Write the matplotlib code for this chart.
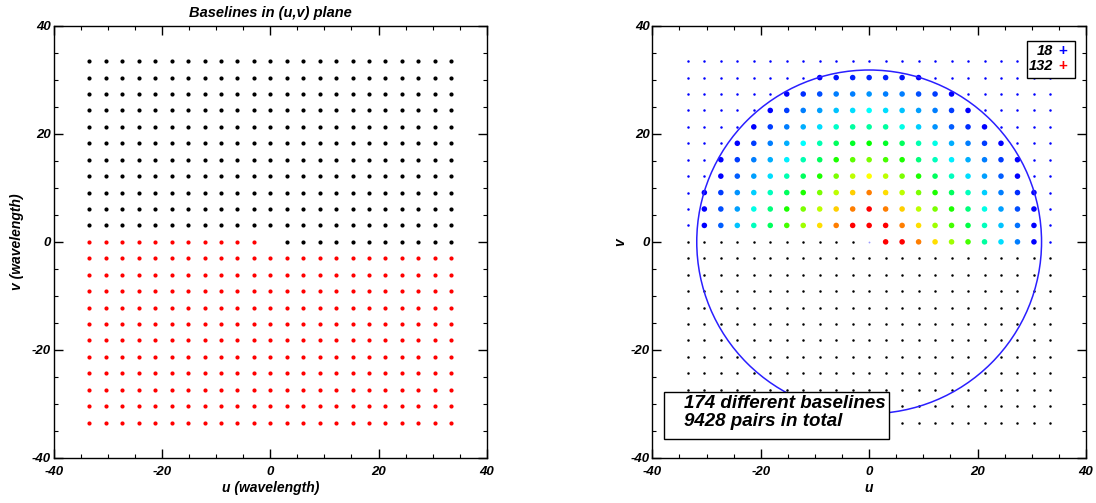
import matplotlib
matplotlib.use("Agg")
import matplotlib.pyplot as plt
from matplotlib import font_manager
from matplotlib.colors import LinearSegmentedColormap, Normalize
from matplotlib.patches import Circle, Rectangle
from matplotlib.ticker import MultipleLocator

plt.rcParams["axes.unicode_minus"] = False

# ---------------- data ----------------
grid_u = [-33.44, -30.40, -27.36, -24.32, -21.28, -18.24, -15.20, -12.16, -9.12, -6.08, -3.04,
          0.0, 3.04, 6.08, 9.12, 12.16, 15.20, 18.24, 21.28, 24.32, 27.36, 30.40, 33.44]
grid_v = list(grid_u)

# redundancy rows in right panel: (v index, first u index, counts)
row_v_index = [21, 20, 19, 18, 17, 16, 15, 14, 13, 12, 11]
row_u_start = [8, 6, 5, 4, 3, 2, 2, 1, 1, 1, 12]
row_counts = [
    [18, 21, 23, 24, 23, 21, 18],
    [18, 25, 30, 37, 37, 40, 37, 37, 30, 27, 18],
    [18, 27, 37, 42, 47, 51, 56, 51, 47, 42, 37, 27, 18],
    [18, 27, 37, 44, 51, 60, 63, 63, 63, 58, 49, 40, 32, 25, 18],
    [18, 27, 37, 44, 56, 62, 68, 72, 75, 72, 68, 62, 58, 44, 37, 27, 18],
    [18, 27, 37, 44, 54, 62, 68, 77, 82, 84, 80, 77, 66, 61, 54, 44, 37, 27, 18],
    [18, 32, 42, 51, 62, 68, 77, 84, 89, 94, 89, 84, 77, 68, 61, 51, 42, 32, 18],
    [18, 27, 40, 49, 61, 68, 77, 84, 89, 101, 113, 99, 89, 84, 77, 68, 61, 49, 37, 25, 18],
    [18, 30, 42, 58, 66, 77, 84, 89, 101, 113, 132, 113, 101, 89, 84, 77, 66, 58, 42, 30, 18],
    [18, 32, 47, 61, 68, 80, 87, 99, 113, 132, 132, 132, 113, 99, 87, 80, 70, 61, 47, 35, 18],
    [132, 132, 113, 99, 87, 80, 63, 51, 37, 18],
]
count_min = 18
count_max = 132
circle_radius = 31.8
n_baselines = 174
n_pairs = 9428

# ---------------- fonts ----------------
avail = {f.name for f in font_manager.fontManager.ttflist}
fam = "Liberation Sans Narrow" if "Liberation Sans Narrow" in avail else "Liberation Sans"
FONT = dict(family=fam, weight="bold", style="italic")

fig = plt.figure(figsize=(10.96, 5.03), dpi=100)
W, H = 1096.0, 503.0

def ax_rect(l, r, t, b):
    return [l / W, 1 - b / H, (r - l) / W, (b - t) / H]

axL = fig.add_axes(ax_rect(54, 486.7, 25.7, 458))
axR = fig.add_axes(ax_rect(652.3, 1086, 25.7, 458))

for ax in (axL, axR):
    ax.set_xlim(-40, 40)
    ax.set_ylim(-40, 40)
    ax.xaxis.set_major_locator(MultipleLocator(20))
    ax.yaxis.set_major_locator(MultipleLocator(20))
    ax.xaxis.set_minor_locator(MultipleLocator(5))
    ax.yaxis.set_minor_locator(MultipleLocator(5))
    ax.tick_params(which="both", direction="in", top=True, right=True)
    ax.tick_params(which="major", length=6.5, width=1.0)
    ax.tick_params(which="minor", length=3.2, width=0.8)
    ax.tick_params(axis="x", pad=6)
    ax.tick_params(axis="y", pad=2)
    for s in ax.spines.values():
        s.set_linewidth(1.0)
    for lab in ax.get_xticklabels() + ax.get_yticklabels():
        lab.set_fontproperties(font_manager.FontProperties(size=9.5, **FONT))

# ---------------- left panel ----------------
bu, bv, ru, rv = [], [], [], []
for j, v in enumerate(grid_v):
    for i, u in enumerate(grid_u):
        if j > 11 or (j == 11 and i > 11):
            bu.append(u); bv.append(v)
        elif j < 11 or (j == 11 and i < 11):
            ru.append(u); rv.append(v)
axL.plot(bu, bv, "o", color="black", ms=3.0, mew=0, ls="none")
axL.plot(ru, rv, "o", color="#ff0000", ms=3.0, mew=0, ls="none")
axL.set_title("Baselines in (u,v) plane", fontsize=10.5, pad=6, **FONT)
axL.set_xlabel("u (wavelength)", fontsize=10, labelpad=2, **FONT)
axL.set_ylabel("v (wavelength)", fontsize=10, labelpad=6, **FONT)

# ---------------- right panel ----------------
axR.plot(bu, bv, "o", color="#0000ff", ms=1.8, mew=0, ls="none")
axR.plot(ru, rv, "o", color="black", ms=1.8, mew=0, ls="none")
axR.plot([grid_u[11]], [grid_v[11]], "o", color="#9a9aff", ms=1.3, mew=0, ls="none")

cmap = LinearSegmentedColormap.from_list(
    "rb", [(0, "#0000ff"), (1 / 3, "#00ffff"), (0.5, "#00ff00"), (2 / 3, "#ffff00"), (1, "#ff0000")])
norm = Normalize(count_min, count_max)
cu, cv, cc = [], [], []
for jv, i0, counts in zip(row_v_index, row_u_start, row_counts):
    for k, c in enumerate(counts):
        cu.append(grid_u[i0 + k]); cv.append(grid_v[jv]); cc.append(c)
axR.scatter(cu, cv, c=cc, cmap=cmap, norm=norm, s=16, linewidths=0, zorder=3)

axR.add_patch(Circle((0, 0), circle_radius, fill=False, ec="#2a1fff", lw=1.1, zorder=4))

axR.set_xlabel("u", fontsize=10, labelpad=2, **FONT)
axR.set_ylabel("v", fontsize=10, labelpad=2, **FONT)

# legend box
axR.add_patch(Rectangle((0.8635, 0.878), 0.1113, 0.087, transform=axR.transAxes,
                        fill=True, fc="white", ec="black", lw=1.0, zorder=5))
axR.text(0.924, 0.941, f"{count_min}", transform=axR.transAxes, ha="right", va="center",
         fontsize=10.5, zorder=6, **FONT)
axR.text(0.924, 0.906, f"{count_max}", transform=axR.transAxes, ha="right", va="center",
         fontsize=10.5, zorder=6, **FONT)
axR.text(0.9466, 0.941, "+", transform=axR.transAxes, ha="center", va="center",
         fontsize=11, color=cmap(0.0), zorder=6, family=fam, weight="bold")
axR.text(0.9466, 0.906, "+", transform=axR.transAxes, ha="center", va="center",
         fontsize=11, color=cmap(1.0), zorder=6, family=fam, weight="bold")

# info box
axR.add_patch(Rectangle((0.0277, 0.043), 0.5183, 0.109, transform=axR.transAxes,
                        fill=True, fc="white", ec="black", lw=1.0, zorder=5))
axR.text(0.073, 0.1265, f"{n_baselines} different baselines", transform=axR.transAxes,
         ha="left", va="center", fontsize=13.5, zorder=6, **FONT)
axR.text(0.073, 0.084, f"{n_pairs} pairs in total", transform=axR.transAxes,
         ha="left", va="center", fontsize=13.5, zorder=6, **FONT)

fig.savefig("out.png", dpi=100)
